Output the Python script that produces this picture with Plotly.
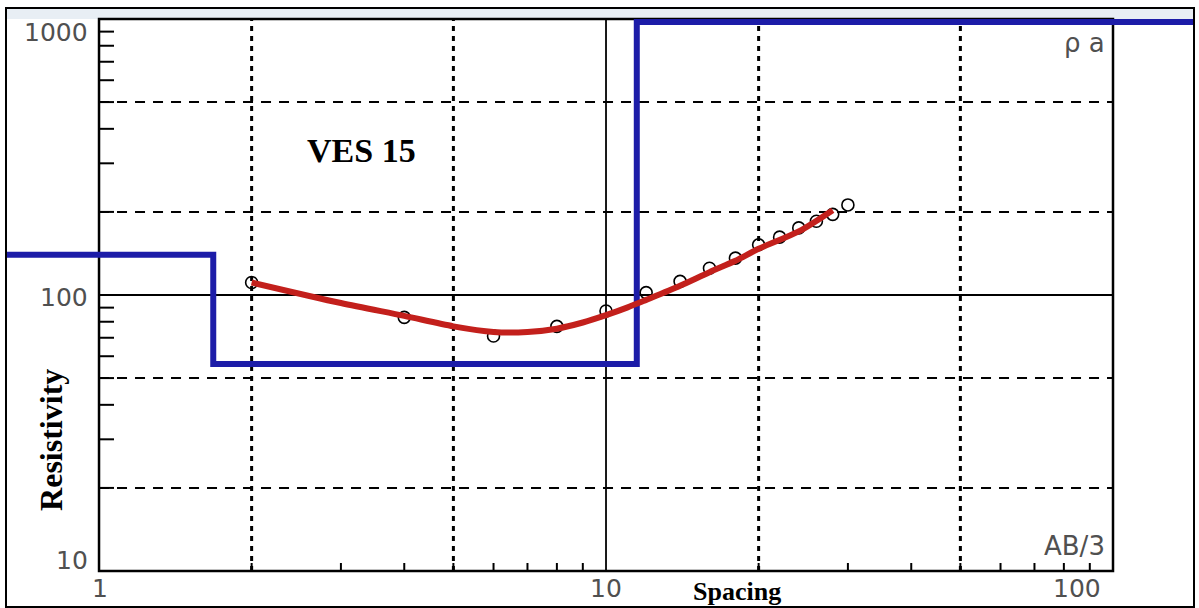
import plotly.graph_objects as go
import numpy as np

# ---------------- data ----------------
# layered earth model (blue step line)
layer_rho = [140, 56.2, 975]          # ohm-m
layer_bounds = [1.68, 11.5]           # spacing where layers change
model_x_start, model_x_end = 0.5, 300

# observed apparent resistivity (open circles)
spacing = [2, 4, 6, 8, 10, 12, 14, 16, 18, 20, 22, 24, 26, 28, 30]
rho_obs = [111, 83, 71, 77, 87.5, 102, 112, 125, 136, 152, 162, 175, 185, 196, 212]

# model response curve (red)
curve_x = [2, 3, 4, 5, 6, 7, 8, 9, 10, 11, 12, 14, 16, 18, 20, 24, 28]
curve_rho = [111, 93.5, 84, 77, 73.5, 73.5, 75.5, 79.5, 84.5, 90, 96, 108, 121, 133, 147, 170, 203]

# axis decoration values
x_dotted = [2, 5, 20, 50]
x_solid = [10]
y_dashed = [20, 50, 200, 500]
y_solid = [100]
y_minor = [20, 30, 40, 50, 60, 70, 80, 90, 200, 300, 400, 500, 600, 700, 800, 900]
x_minor = [2, 3, 4, 5, 6, 7, 8, 9, 20, 30, 40, 50, 60, 70, 80, 90]
x_box = [1, 100]
y_box = [10, 1000]

# ---------------- geometry ----------------
W, H = 1199, 608
ml, mr, mt, mb = 7, 6, 9, 2
xr = [-0.1815, 2.1578]
yr = [0.8732, 3.0362]
px_per_dec_x = (W - ml - mr) / (xr[1] - xr[0])
px_per_dec_y = (H - mt - mb) / (yr[1] - yr[0])

# ---------------- traces ----------------
mx = [model_x_start]
my = [layer_rho[0]]
for b, r0, r1 in zip(layer_bounds, layer_rho[:-1], layer_rho[1:]):
    mx += [b, b]
    my += [r0, r1]
mx.append(model_x_end)
my.append(layer_rho[-1])

fig = go.Figure()
fig.add_trace(go.Scatter(x=mx, y=my, mode='lines',
                         line=dict(color='#1c1ca8', width=6), hoverinfo='skip'))
fig.add_trace(go.Scatter(x=spacing, y=rho_obs, mode='markers',
                         marker=dict(symbol='circle-open', size=12, color='black',
                                     line=dict(color='black', width=1.6)),
                         hoverinfo='skip'))
fig.add_trace(go.Scatter(x=curve_x, y=curve_rho, mode='lines',
                         line=dict(color='#c3201c', width=6, shape='spline', smoothing=0.8),
                         hoverinfo='skip'))

# ---------------- shapes ----------------
shapes = []
for v in x_dotted:
    shapes.append(dict(type='line', xref='x', yref='y', x0=v, x1=v, y0=y_box[0], y1=y_box[1],
                       line=dict(color='black', width=3, dash='5px,5px'), layer='below'))
for v in x_solid:
    shapes.append(dict(type='line', xref='x', yref='y', x0=v, x1=v, y0=y_box[0], y1=y_box[1],
                       line=dict(color='black', width=1.8), layer='below'))
for v in y_dashed:
    shapes.append(dict(type='line', xref='x', yref='y', x0=x_box[0], x1=x_box[1], y0=v, y1=v,
                       line=dict(color='black', width=2, dash='10px,8px'), layer='below'))
for v in y_solid:
    shapes.append(dict(type='line', xref='x', yref='y', x0=x_box[0], x1=x_box[1], y0=v, y1=v,
                       line=dict(color='black', width=1.8), layer='below'))
# left minor ticks (inside)
tl_left = 10 ** (15 / px_per_dec_x)
for v in y_minor:
    shapes.append(dict(type='line', xref='x', yref='y', x0=x_box[0], x1=x_box[0] * tl_left, y0=v, y1=v,
                       line=dict(color='black', width=2), layer='below'))
# bottom minor ticks (inside)
tl_bot = 10 ** (8 / px_per_dec_y)
for v in x_minor:
    shapes.append(dict(type='line', xref='x', yref='y', x0=v, x1=v, y0=y_box[0], y1=y_box[0] * tl_bot,
                       line=dict(color='black', width=2), layer='below'))
# inner plot box
shapes.append(dict(type='rect', xref='x', yref='y', x0=x_box[0], x1=x_box[1], y0=y_box[0], y1=y_box[1],
                   line=dict(color='black', width=2.5), fillcolor='rgba(0,0,0,0)', layer='below'))
# light window band at top
shapes.append(dict(type='rect', xref='paper', yref='paper', x0=0, x1=1,
                   y0=1 - 10 / (H - mt - mb), y1=1,
                   line=dict(width=0), fillcolor='#e8eef4', layer='below'))

# ---------------- annotations ----------------
gray = '#505050'
num_font = dict(family='DejaVu Sans', size=25, color=gray)
ann = []
def add(text, x, y, xa='center', ya='middle', font=num_font, angle=0):
    ann.append(dict(text=text, x=x, y=y, xref='x', yref='y', xanchor=xa, yanchor=ya,
                    showarrow=False, font=font, textangle=angle))

lab_x = np.log10(x_box[0]) - 9 / px_per_dec_x
add('1000', lab_x, np.log10(y_box[1]) - 14 / px_per_dec_y, xa='right')
add('100', lab_x, np.log10(y_solid[0]) - 2 / px_per_dec_y, xa='right')
add('10', lab_x, np.log10(y_box[0]) + 11 / px_per_dec_y, xa='right')
lab_y = np.log10(y_box[0]) - 17 / px_per_dec_y
add('1', np.log10(x_box[0]) + 1 / px_per_dec_x, lab_y)
add('10', np.log10(x_solid[0]), lab_y)
add('100', np.log10(x_box[1]) - 36 / px_per_dec_x, lab_y)
add('AB/3', np.log10(x_box[1]) - 6 / px_per_dec_x, np.log10(y_box[0]) + 25 / px_per_dec_y,
    xa='right', font=dict(family='DejaVu Sans', size=26, color=gray))
add('ρ a', np.log10(x_box[1]) - 6 / px_per_dec_x, np.log10(y_box[1]) - 24 / px_per_dec_y,
    xa='right', font=dict(family='DejaVu Sans', size=26, color=gray))
add('<b>VES 15</b>', 0.517, 2.525,
    font=dict(family='Liberation Serif', size=34, color='black'))
add('<b>Spacing</b>', 1.258, 0.925,
    font=dict(family='Liberation Serif', size=26, color='black'))
add('<b>Resistivity</b>', -0.0947, 1.475,
    font=dict(family='Liberation Serif', size=32, color='black'), angle=-90)

fig.update_layout(
    width=W, height=H,
    margin=dict(l=ml, r=mr, t=mt, b=mb),
    paper_bgcolor='white', plot_bgcolor='white',
    showlegend=False,
    shapes=shapes, annotations=ann,
    xaxis=dict(type='log', range=xr, showgrid=False, zeroline=False, showticklabels=False,
               ticks='', showline=True, linecolor='black', linewidth=2, mirror=True, fixedrange=True),
    yaxis=dict(type='log', range=yr, showgrid=False, zeroline=False, showticklabels=False,
               ticks='', showline=True, linecolor='black', linewidth=2, mirror=True, fixedrange=True),
)

fig.write_html('out.html')
